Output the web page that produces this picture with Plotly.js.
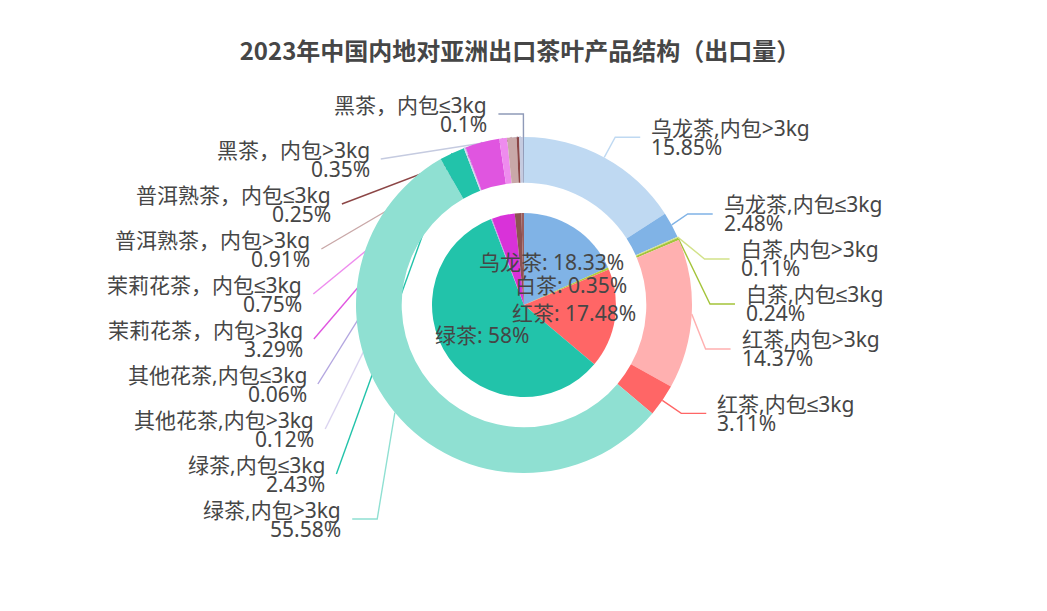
<!DOCTYPE html>
<html>
<head>
<meta charset="utf-8">
<script src="https://cdn.plot.ly/plotly-3.0.1.min.js"></script>
<style>
  html, body { margin: 0; padding: 0; background: #ffffff; }
  #chart { width: 1047px; height: 611px; }
</style>
</head>
<body>
<div id="chart"></div>
<script>
// ---- data -------------------------------------------------------------
const chartTitle = '2023年中国内地对亚洲出口茶叶产品结构（出口量）';

// inner pie: tea types (share of export volume, %)
const teaTypes  = ['乌龙茶', '白茶', '红茶', '绿茶', '其他花茶', '茉莉花茶', '普洱熟茶', '黑茶'];
const teaShares = [18.33, 0.35, 17.48, 58, 0.18, 4.04, 1.16, 0.45];
const labelledTypes = ['乌龙茶', '白茶', '红茶', '绿茶'];

// outer ring: tea type by inner packing size (%)
const packLabels = [
  '乌龙茶,内包>3kg', '乌龙茶,内包≤3kg',
  '白茶,内包>3kg', '白茶,内包≤3kg',
  '红茶,内包>3kg', '红茶,内包≤3kg',
  '绿茶,内包>3kg', '绿茶,内包≤3kg',
  '其他花茶,内包>3kg', '其他花茶,内包≤3kg',
  '茉莉花茶，内包>3kg', '茉莉花茶，内包≤3kg',
  '普洱熟茶，内包>3kg', '普洱熟茶，内包≤3kg',
  '黑茶，内包>3kg', '黑茶，内包≤3kg'
];
const packShares = [15.85, 2.48, 0.11, 0.24, 14.37, 3.11, 55.58, 2.43,
                    0.12, 0.06, 3.29, 0.75, 0.91, 0.25, 0.35, 0.1];

// ---- styles -----------------------------------------------------------
const typeColors = ['#80b3e6', '#b3cc3a', '#ff6666', '#22c3aa',
                    '#b3a6e0', '#d932d9', '#8c5252', '#9a5e5e'];
const packColors = ['#bfd9f2', '#80b3e6', '#d2e289', '#a4c43a',
                    '#ffb0b0', '#ff6666', '#8fe0d2', '#22c3aa',
                    '#dad3f0', '#b3a6e0', '#e055e0', '#ee8cee',
                    '#c9a8a8', '#8c4646', '#c5cbe0', '#8f9ab8'];

const FONT = "'Noto Sans', 'Liberation Sans', 'Noto Sans CJK SC', sans-serif";
const TEXT_COLOR = '#464646';
const LABEL_SIZE = 21;

// ---- geometry (pixels) ------------------------------------------------
const W = 1047, H = 611;
const CX = 524, CY = 305;        // centre of both pies
const R_OUT = 168;               // outer ring radius
const HOLE = 0.728;              // ring hole fraction
const R_IN = 92;                 // inner pie radius
const LINE1 = 23, LINE2 = 25;    // label line segment lengths
const LABEL_DIST = 5, TEXT_GAP = 10, ROW = 45, HALF_ROW = 9.5;

const px = x => x / W;
const py = y => 1 - y / H;
const domainFor = r => ({
  x: [px(CX - r), px(CX + r)],
  y: [py(CY + r), py(CY - r)]
});
const esc = s => s.replace(/&/g, '&amp;').replace(/</g, '&lt;').replace(/>/g, '&gt;');
const pctText = v => String(v) + '%';

// ---- outer labels: pie-style label layout -----------------------------
const outerTotal = packShares.reduce((a, b) => a + b, 0);
let acc = 0;
const items = packShares.map((v, i) => {
  const mid = (acc + v / 2) / outerTotal * 2 * Math.PI;
  acc += v;
  const nx = Math.sin(mid), ny = -Math.cos(mid);
  const dir = nx < 0 ? -1 : 1;
  const p0 = [CX + R_OUT * nx, CY + R_OUT * ny];
  const p1x = CX + (R_OUT + LINE1) * nx;
  return { i, nx, ny, dir, p0, y: CY + (R_OUT + LINE1) * ny,
           dx: Math.abs(p1x - CX) + LABEL_DIST };
});

function layoutSide(list) {
  list.sort((a, b) => a.y - b.y);
  let last = -Infinity, adjusted = false;
  list.forEach(it => {
    if (it.y < last + ROW) { it.y = last + ROW; adjusted = true; }
    last = it.y;
  });
  const rA = R_OUT + LINE1;
  if (adjusted) {
    const semis = [{ list: [], maxY: 0, rB: rA }, { list: [], maxY: 0, rB: rA }];
    list.forEach(it => {
      const s = it.y > CY ? semis[1] : semis[0];
      const dy = Math.abs(it.y - CY);
      if (dy >= s.maxY) {
        s.rB = it.dx < rA ? Math.sqrt(dy * dy / (1 - it.dx * it.dx / (rA * rA))) : rA;
        s.maxY = dy;
      }
      s.list.push(it);
    });
    semis.forEach(s => s.list.forEach(it => {
      const dy = Math.abs(it.y - CY);
      it.dx = Math.sqrt(Math.max(0, 1 - dy * dy / (s.rB * s.rB))) * rA;
    }));
  }
  list.forEach(it => {
    const labelX = CX + (it.dx + LINE2) * it.dir;
    it.p2 = [labelX - LABEL_DIST * it.dir, it.y];
    it.p1 = [it.p2[0] - LINE2 * it.dir, it.y];
    it.textX = it.p2[0] + TEXT_GAP * it.dir;
  });
}

function unit(v) { const l = Math.hypot(v[0], v[1]); return l < 1e-3 ? null : [v[0] / l, v[1] / l]; }

// keep the bend of each label line from folding back on itself
function limitTurn(p0, p1, p2) {
  const a = unit([p0[0] - p1[0], p0[1] - p1[1]]);
  const b = unit([p2[0] - p1[0], p2[1] - p1[1]]);
  if (!a || !b) return p1;
  if (a[0] * b[0] + a[1] * b[1] > Math.cos(Math.PI / 2)) {
    const t0 = (p0[0] - p1[0]) * b[0] + (p0[1] - p1[1]) * b[1];
    const q = [p1[0] + b[0] * t0, p1[1] + b[1] * t0];
    const t = (q[0] - p1[0]) / (p2[0] - p1[0]);
    if (t < 0) return p1;
    if (t > 1) return p2;
    return q;
  }
  return p1;
}

// first segment may not point back into the slice
function limitSurface(p0, p1, p2, n) {
  const a = unit([p1[0] - p0[0], p1[1] - p0[1]]);
  const b = unit([p2[0] - p1[0], p2[1] - p1[1]]);
  if (!a || !b) return p1;
  if (a[0] * n[0] + a[1] * n[1] < 0) {
    const t0 = (p0[0] - p1[0]) * b[0] + (p0[1] - p1[1]) * b[1];
    const proj = [p1[0] + b[0] * t0, p1[1] + b[1] * t0];
    const d = Math.hypot(p0[0] - proj[0], p0[1] - proj[1]);
    const ang2 = Math.acos(Math.max(-1, Math.min(1, b[0] * n[0] + b[1] * n[1])));
    if (ang2 >= Math.PI / 2) return p2;
    const k = d / Math.tan(Math.PI / 2 - ang2);
    const q = [proj[0] + b[0] * k, proj[1] + b[1] * k];
    const t = (q[0] - p1[0]) / (p2[0] - p1[0]);
    if (t < 0) return p1;
    if (t > 1) return p2;
    return q;
  }
  return p1;
}

layoutSide(items.filter(it => it.dir < 0));
layoutSide(items.filter(it => it.dir > 0));

const shapes = [];
const annotations = [];
items.forEach(it => {
  let p1 = limitTurn(it.p0, it.p1, it.p2);
  p1 = limitSurface(it.p0, p1, it.p2, [it.nx, it.ny]);
  const pts = [it.p0, p1, it.p2];
  shapes.push({
    type: 'path', xref: 'paper', yref: 'paper', layer: 'below',
    path: 'M' + pts.map(p => px(p[0]).toFixed(5) + ',' + py(p[1]).toFixed(5)).join(' L'),
    line: { color: packColors[it.i], width: 1.4 }
  });
  const anchor = it.dir < 0 ? 'right' : 'left';
  const lines = [esc(packLabels[it.i]), pctText(packShares[it.i])];
  lines.forEach((txt, k) => {
    annotations.push({
      xref: 'paper', yref: 'paper', showarrow: false,
      x: px(it.textX), y: py(it.y + (k === 0 ? -HALF_ROW : HALF_ROW)),
      xanchor: anchor, yanchor: 'middle', align: anchor, borderpad: 0,
      text: txt, font: { family: FONT, size: LABEL_SIZE, color: TEXT_COLOR }
    });
  });
});

// ---- inner labels ------------------------------------------------------
const innerTotal = teaShares.reduce((a, b) => a + b, 0);
acc = 0;
teaShares.forEach((v, i) => {
  const mid = (acc + v / 2) / innerTotal * 2 * Math.PI;
  acc += v;
  if (!labelledTypes.includes(teaTypes[i])) return;
  const r = R_IN * 0.555;
  annotations.push({
    xref: 'paper', yref: 'paper', showarrow: false,
    x: px(CX + r * Math.sin(mid)), y: py(CY - r * Math.cos(mid)),
    xanchor: 'center', yanchor: 'middle', borderpad: 0,
    text: teaTypes[i] + ': ' + pctText(v),
    font: { family: FONT, size: LABEL_SIZE, color: TEXT_COLOR }
  });
});

// ---- traces ------------------------------------------------------------
const outerRing = {
  type: 'pie', labels: packLabels, values: packShares,
  hole: HOLE, sort: false, direction: 'clockwise', rotation: 0,
  textinfo: 'none', hoverinfo: 'label+percent',
  marker: { colors: packColors, line: { width: 0 } },
  domain: domainFor(R_OUT), showlegend: false
};
const innerPie = {
  type: 'pie', labels: teaTypes, values: teaShares,
  sort: false, direction: 'clockwise', rotation: 0,
  textinfo: 'none', hoverinfo: 'label+percent',
  marker: { colors: typeColors, line: { width: 0 } },
  domain: domainFor(R_IN), showlegend: false
};

const layout = {
  width: W, height: H,
  margin: { l: 0, r: 0, t: 0, b: 0 },
  paper_bgcolor: '#ffffff',
  showlegend: false,
  title: {
    text: chartTitle, x: 520 / W, xanchor: 'center',
    y: 1 - 52 / H, yanchor: 'middle',
    font: { family: "'Noto Sans CJK SC', sans-serif", size: 24, color: TEXT_COLOR, weight: 700 }
  },
  shapes: shapes,
  annotations: annotations
};

Plotly.newPlot('chart', [outerRing, innerPie], layout, { displayModeBar: false, staticPlot: true });
</script>
</body>
</html>
